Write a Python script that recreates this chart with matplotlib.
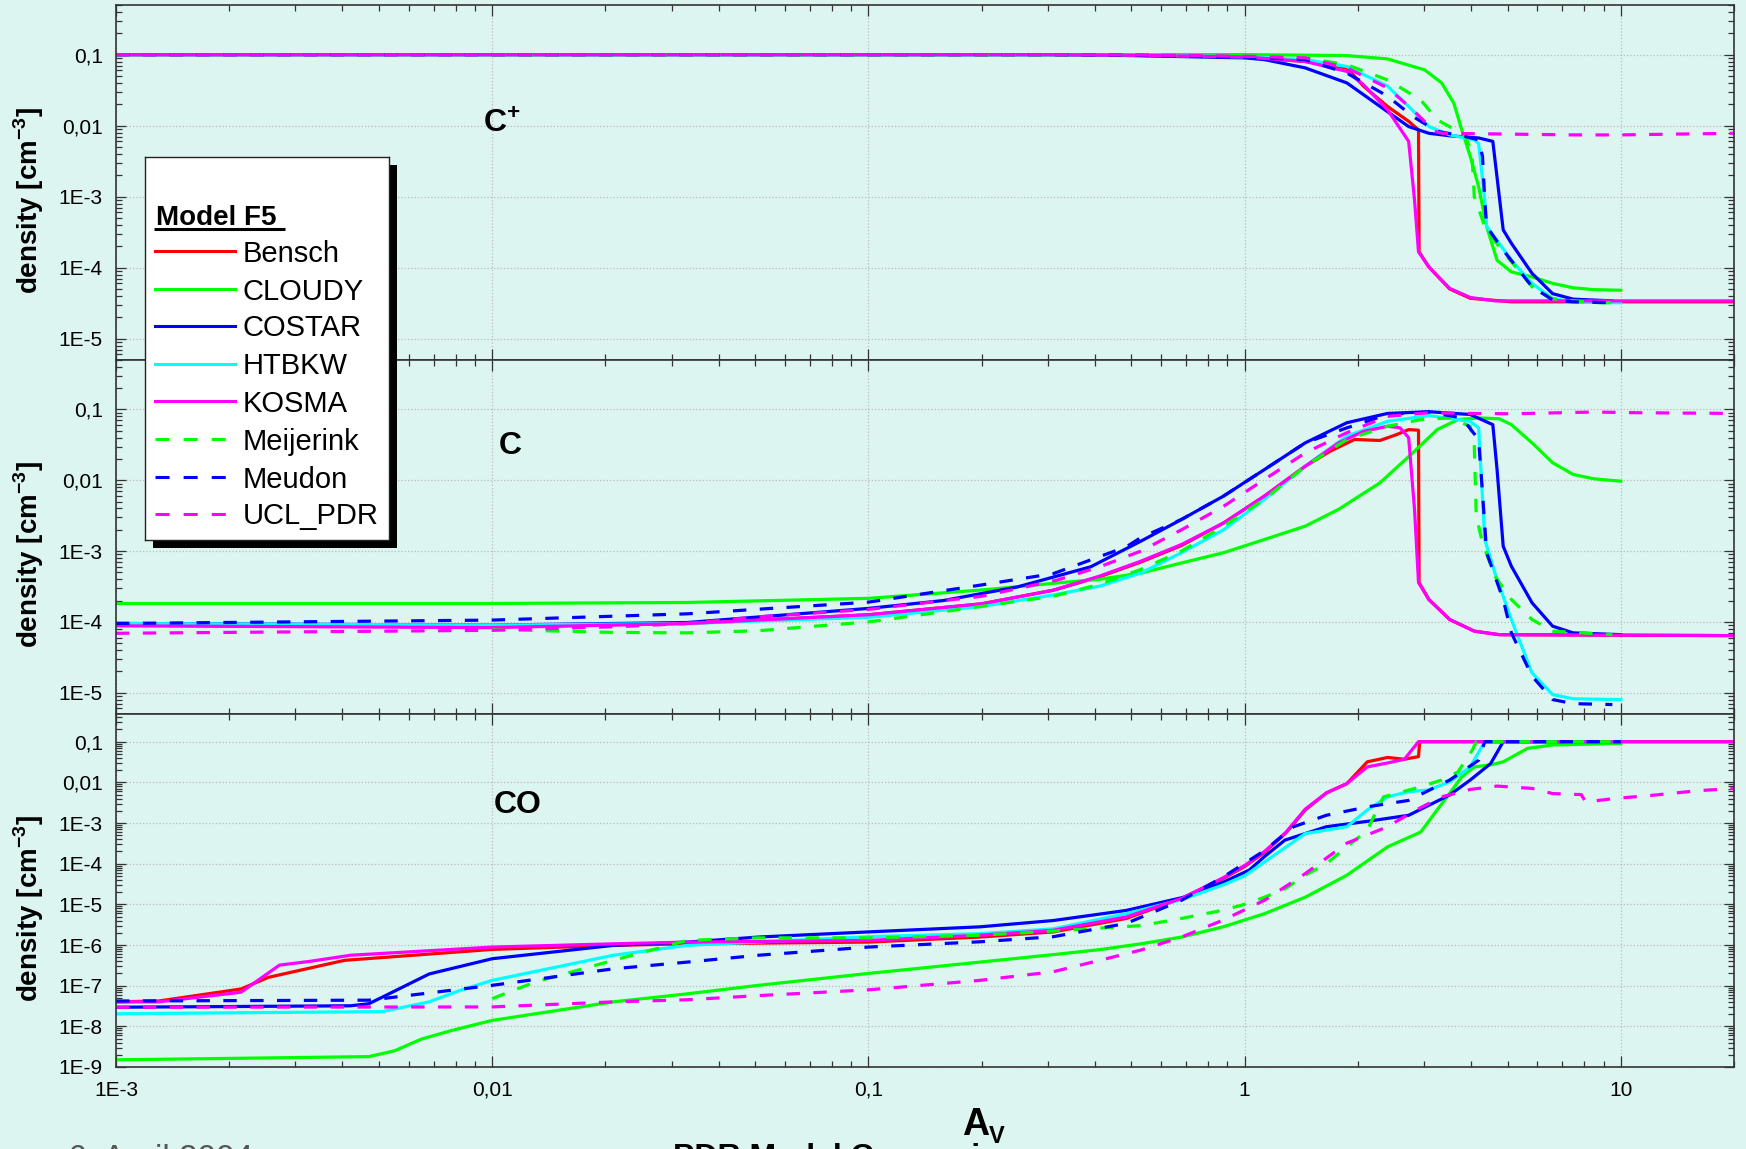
import matplotlib
matplotlib.use("Agg")
import matplotlib.pyplot as plt
from matplotlib.patches import Rectangle
from matplotlib.ticker import LogLocator, NullFormatter

# ==================== data (A_V, density) ====================
models = ["Bensch", "CLOUDY", "COSTAR", "HTBKW", "KOSMA", "Meijerink", "Meudon", "UCL_PDR"]

# --- C+ ---
cp_bensch_x = [1e-3, 0.3, 0.5, 1.0, 1.45, 1.87, 2.07, 2.4, 2.73, 2.9, 2.91, 3.09, 3.51, 3.98, 5.12, 20]
cp_bensch_y = [0.1, 0.1, 0.098, 0.093, 0.08, 0.065, 0.036, 0.0186, 0.0115, 0.0087, 1.67e-4, 1.02e-4, 5.0e-5, 3.7e-5, 3.3e-5, 3.3e-5]
cp_cloudy_x = [1e-3, 0.5, 1.0, 1.87, 2.4, 3.01, 3.34, 3.6, 3.78, 3.98, 4.19, 4.4, 4.69, 5.12, 5.81, 6.59, 7.47, 8.48, 10]
cp_cloudy_y = [0.1, 0.1, 0.1, 0.097, 0.087, 0.061, 0.04, 0.0207, 0.0087, 0.0037, 0.00138, 3.8e-4, 1.27e-4, 8.7e-5, 7.4e-5, 6.0e-5, 5.2e-5, 4.9e-5, 4.8e-5]
cp_costar_x = [1e-3, 0.3, 0.5, 1.0, 1.13, 1.45, 1.87, 2.29, 2.73, 3.09, 3.51, 4.19, 4.57, 4.87, 5.12, 5.81, 6.59, 7.47, 9.5]
cp_costar_y = [0.1, 0.1, 0.097, 0.09, 0.085, 0.065, 0.04, 0.0187, 0.0097, 0.0078, 0.0072, 0.0067, 0.006, 3.4e-4, 2.2e-4, 8.3e-5, 4.3e-5, 3.6e-5, 3.4e-5]
cp_htbkw_x = [1e-3, 0.5, 1.0, 1.45, 1.87, 2.4, 2.73, 3.09, 3.51, 4.08, 4.19, 4.35, 4.4, 4.75, 5.12, 5.81, 6.59, 7.47, 10]
cp_htbkw_y = [0.1, 0.099, 0.093, 0.085, 0.068, 0.036, 0.0186, 0.0097, 0.0074, 0.0063, 0.0056, 9e-4, 3.8e-4, 2.2e-4, 1.27e-4, 6.0e-5, 3.65e-5, 3.3e-5, 3.2e-5]
cp_kosma_x = [1e-3, 0.3, 0.5, 1.0, 1.45, 1.87, 2.07, 2.4, 2.73, 2.83, 2.9, 3.09, 3.51, 3.98, 4.63, 20]
cp_kosma_y = [0.1, 0.1, 0.098, 0.093, 0.08, 0.058, 0.0377, 0.0167, 0.006, 9e-4, 1.67e-4, 1.02e-4, 5.1e-5, 3.8e-5, 3.4e-5, 3.4e-5]
cp_meijerink_x = [0.01, 0.5, 1.0, 1.45, 1.87, 2.4, 2.94, 3.25, 3.69, 3.87, 4.02, 4.08, 4.23, 4.35, 4.75, 5.81, 6.59, 8.48, 9.5]
cp_meijerink_y = [0.1, 0.099, 0.095, 0.09, 0.072, 0.044, 0.023, 0.0121, 0.0083, 0.007, 0.0041, 1e-3, 5.8e-4, 3.8e-4, 1.96e-4, 5.4e-5, 3.65e-5, 3.2e-5, 3.2e-5]
cp_meudon_x = [1e-3, 0.3, 0.5, 1.0, 1.45, 1.87, 2.4, 2.8, 3.25, 3.78, 4.19, 4.29, 4.35, 4.4, 4.87, 5.81, 6.59, 7.47, 9.5]
cp_meudon_y = [0.1, 0.1, 0.098, 0.092, 0.085, 0.055, 0.026, 0.0135, 0.0083, 0.0072, 0.0063, 0.0037, 9e-4, 3.8e-4, 1.76e-4, 5.4e-5, 3.5e-5, 3.3e-5, 3.2e-5]
cp_ucl_x = [1e-3, 0.3, 0.5, 1.0, 1.45, 1.87, 2.4, 2.8, 3.2, 3.35, 5.0, 7.5, 10, 14, 20]
cp_ucl_y = [0.1, 0.1, 0.099, 0.095, 0.09, 0.065, 0.034, 0.0167, 0.0083, 0.0078, 0.0076, 0.0074, 0.0074, 0.0076, 0.0078]

# --- C ---
c_bensch_x = [1e-3, 0.01, 0.033, 0.1, 0.2, 0.31, 0.41, 0.53, 0.68, 0.88, 1.13, 1.45, 1.69, 1.96, 2.29, 2.53, 2.73, 2.9, 2.91, 3.09, 3.51, 4.08, 4.75, 20]
c_bensch_y = [9.0e-5, 8.5e-5, 9.5e-5, 1.26e-4, 1.8e-4, 2.8e-4, 4.3e-4, 7.0e-4, 1.2e-3, 2.5e-3, 6.0e-3, 0.0158, 0.0258, 0.0377, 0.0365, 0.044, 0.052, 0.051, 3.6e-4, 2.07e-4, 1.08e-4, 7.4e-5, 6.6e-5, 6.4e-5]
c_cloudy_x = [1e-3, 0.01, 0.033, 0.1, 0.205, 0.318, 0.412, 0.53, 0.68, 0.88, 1.13, 1.45, 1.78, 2.29, 2.8, 3.25, 3.69, 4.19, 4.75, 5.12, 5.81, 6.59, 7.47, 8.48, 10]
c_cloudy_y = [1.82e-4, 1.82e-4, 1.88e-4, 2.15e-4, 2.85e-4, 3.55e-4, 4.0e-4, 4.9e-4, 6.8e-4, 9.5e-4, 1.46e-3, 2.25e-3, 3.9e-3, 9.2e-3, 0.0244, 0.052, 0.072, 0.076, 0.074, 0.061, 0.0338, 0.0177, 0.0121, 0.0105, 0.0097]
c_costar_x = [1e-3, 0.01, 0.033, 0.1, 0.158, 0.248, 0.39, 0.53, 0.68, 0.88, 1.13, 1.45, 1.87, 2.4, 3.09, 3.98, 4.57, 4.69, 4.87, 5.12, 5.81, 6.59, 7.47, 10]
c_costar_y = [9.5e-5, 9.0e-5, 9.8e-5, 1.55e-4, 2.0e-4, 3.1e-4, 6.0e-4, 1.38e-3, 2.8e-3, 6.0e-3, 0.0142, 0.0338, 0.065, 0.088, 0.093, 0.085, 0.061, 0.0142, 1.17e-3, 6.1e-4, 1.86e-4, 8.7e-5, 7.0e-5, 6.6e-5]
c_htbkw_x = [1e-3, 0.01, 0.033, 0.1, 0.198, 0.31, 0.412, 0.53, 0.68, 0.88, 1.13, 1.45, 1.87, 2.4, 3.09, 3.98, 4.19, 4.35, 4.63, 5.12, 5.81, 6.59, 7.47, 10]
c_htbkw_y = [9.5e-5, 9.0e-5, 9.5e-5, 1.16e-4, 1.64e-4, 2.4e-4, 3.2e-4, 4.9e-4, 9.5e-4, 2.0e-3, 5.4e-3, 0.0158, 0.042, 0.068, 0.082, 0.068, 0.055, 1.46e-3, 4.9e-4, 1.08e-4, 1.9e-5, 9.4e-6, 8.2e-6, 8.0e-6]
c_kosma_x = [1e-3, 0.01, 0.033, 0.1, 0.2, 0.31, 0.41, 0.53, 0.68, 0.88, 1.13, 1.45, 1.78, 2.07, 2.4, 2.59, 2.73, 2.83, 2.9, 3.09, 3.51, 4.08, 4.75, 20]
c_kosma_y = [8.8e-5, 8.3e-5, 9.5e-5, 1.26e-4, 1.8e-4, 2.8e-4, 4.4e-4, 7.2e-4, 1.24e-3, 2.5e-3, 6.0e-3, 0.0158, 0.0338, 0.049, 0.058, 0.055, 0.04, 3.9e-3, 3.6e-4, 2.07e-4, 1.08e-4, 7.4e-5, 6.6e-5, 6.4e-5]
c_meijerink_x = [0.01, 0.021, 0.033, 0.051, 0.1, 0.158, 0.31, 0.412, 0.53, 0.68, 0.88, 1.13, 1.45, 1.87, 2.4, 2.94, 3.51, 3.98, 4.08, 4.13, 4.29, 4.63, 5.12, 5.81, 6.59, 9.5]
c_meijerink_y = [7.8e-5, 7.1e-5, 7.0e-5, 7.5e-5, 1.0e-4, 1.39e-4, 2.3e-4, 3.4e-4, 5.5e-4, 1.0e-3, 2.25e-3, 5.4e-3, 0.0158, 0.0377, 0.058, 0.072, 0.076, 0.058, 0.0303, 3.1e-3, 1.31e-3, 4.4e-4, 2.07e-4, 1.08e-4, 7.4e-5, 6.6e-5]
c_meudon_x = [1e-3, 0.01, 0.033, 0.1, 0.198, 0.31, 0.485, 0.53, 0.68, 0.88, 1.13, 1.45, 1.87, 2.4, 3.09, 3.78, 4.19, 4.29, 4.4, 4.87, 5.12, 5.81, 6.59, 7.47, 9.5]
c_meudon_y = [9.5e-5, 1.06e-4, 1.3e-4, 1.9e-4, 3.3e-4, 4.8e-4, 1.15e-3, 1.55e-3, 2.8e-3, 6.0e-3, 0.0142, 0.0338, 0.055, 0.085, 0.092, 0.076, 0.0377, 0.0067, 9.5e-4, 2.07e-4, 7.0e-5, 1.71e-5, 8.0e-6, 7.0e-6, 6.8e-6]
c_ucl_x = [1e-3, 0.01, 0.022, 0.033, 0.05, 0.1, 0.2, 0.318, 0.412, 0.53, 0.68, 0.88, 1.13, 1.45, 1.87, 2.4, 3.09, 3.98, 5.12, 8.48, 11, 20]
c_ucl_y = [6.9e-5, 7.6e-5, 8.6e-5, 9.5e-5, 1.17e-4, 1.5e-4, 2.3e-4, 3.9e-4, 6.0e-4, 1.0e-3, 2.0e-3, 4.3e-3, 0.0103, 0.0244, 0.047, 0.08, 0.09, 0.088, 0.087, 0.092, 0.09, 0.088]

# --- CO ---
co_bensch_x = [1e-3, 0.0013, 0.00215, 0.00254, 0.00405, 0.01, 0.021, 0.033, 0.1, 0.198, 0.31, 0.485, 0.68, 0.877, 1.0, 1.13, 1.29, 1.45, 1.65, 1.87, 2.12, 2.4, 2.66, 2.9, 2.92, 20]
co_bensch_y = [4.0e-8, 4.2e-8, 8.3e-8, 1.6e-7, 4.2e-7, 7.8e-7, 9.8e-7, 1.07e-6, 1.18e-6, 1.57e-6, 2.1e-6, 4.5e-6, 1.4e-5, 4.3e-5, 8.5e-5, 1.9e-4, 5.8e-4, 2.1e-3, 5.5e-3, 0.0093, 0.032, 0.041, 0.037, 0.043, 0.1, 0.1]
co_cloudy_x = [1e-3, 0.0047, 0.0055, 0.0065, 0.0078, 0.01, 0.021, 0.033, 0.051, 0.1, 0.198, 0.31, 0.412, 0.53, 0.68, 0.877, 1.13, 1.45, 1.87, 2.4, 2.94, 3.25, 3.51, 3.78, 4.08, 4.51, 4.87, 5.66, 6.59, 10]
co_cloudy_y = [1.5e-9, 1.8e-9, 2.5e-9, 4.9e-9, 7.9e-9, 1.4e-8, 4.0e-8, 6.3e-8, 1.02e-7, 2.0e-7, 3.8e-7, 5.8e-7, 7.7e-7, 1.07e-6, 1.57e-6, 2.8e-6, 5.9e-6, 1.5e-5, 5.2e-5, 2.6e-4, 6.0e-4, 2.1e-3, 5.4e-3, 0.0137, 0.024, 0.027, 0.032, 0.069, 0.083, 0.091]
co_costar_x = [1e-3, 0.0042, 0.0047, 0.0051, 0.0068, 0.01, 0.021, 0.033, 0.051, 0.1, 0.198, 0.31, 0.485, 0.69, 0.877, 1.03, 1.13, 1.28, 1.65, 2.12, 2.73, 3.51, 3.98, 4.51, 4.87, 10]
co_costar_y = [2.95e-8, 3.2e-8, 3.6e-8, 5.2e-8, 1.94e-7, 4.6e-7, 9.8e-7, 1.18e-6, 1.57e-6, 2.1e-6, 2.8e-6, 4.0e-6, 7.1e-6, 1.5e-5, 3.5e-5, 7e-5, 1.5e-4, 3.8e-4, 8.1e-4, 1.1e-3, 1.55e-3, 4.9e-3, 0.0114, 0.029, 0.1, 0.1]
co_htbkw_x = [1e-3, 0.0051, 0.0068, 0.0082, 0.01, 0.021, 0.033, 0.1, 0.198, 0.31, 0.485, 0.68, 0.877, 1.0, 1.13, 1.45, 1.87, 2.12, 2.4, 2.73, 3.09, 3.51, 3.98, 4.35, 10]
co_htbkw_y = [2.04e-8, 2.3e-8, 4e-8, 7.6e-8, 1.35e-7, 5.6e-7, 9.8e-7, 1.6e-6, 1.9e-6, 2.5e-6, 5.9e-6, 1.3e-5, 3e-5, 5e-5, 1.1e-4, 5.5e-4, 8.1e-4, 2.1e-3, 4.4e-3, 5.9e-3, 6.5e-3, 0.0103, 0.024, 0.1, 0.1]
co_kosma_x = [1e-3, 0.0013, 0.00215, 0.00272, 0.0033, 0.0042, 0.01, 0.021, 0.033, 0.1, 0.198, 0.31, 0.485, 0.68, 0.877, 1.0, 1.13, 1.29, 1.45, 1.65, 1.87, 2.12, 2.4, 2.66, 2.9, 20]
co_kosma_y = [4.0e-8, 4.0e-8, 6.9e-8, 3.2e-7, 4.0e-7, 5.6e-7, 8.9e-7, 1.07e-6, 1.18e-6, 1.3e-6, 1.74e-6, 2.3e-6, 4.9e-6, 1.4e-5, 4.5e-5, 9e-5, 2.0e-4, 6.0e-4, 2.2e-3, 5.5e-3, 0.0093, 0.024, 0.03, 0.037, 0.1, 0.1]
co_meijerink_x = [0.01, 0.013, 0.021, 0.033, 0.051, 0.1, 0.198, 0.31, 0.412, 0.53, 0.68, 0.877, 1.0, 1.13, 1.28, 1.45, 1.65, 1.87, 2.12, 2.17, 2.34, 2.53, 2.94, 3.34, 3.69, 4.03, 4.13, 10]
co_meijerink_y = [4.8e-8, 1.23e-7, 4.2e-7, 1.3e-6, 1.5e-6, 1.5e-6, 1.74e-6, 2.2e-6, 2.6e-6, 3.0e-6, 4.5e-6, 7.2e-6, 1.0e-5, 1.5e-5, 2.4e-5, 5.2e-5, 1.0e-4, 2.6e-4, 6.6e-4, 1.07e-3, 4.4e-3, 5.3e-3, 7.8e-3, 0.0114, 0.018, 0.062, 0.1, 0.1]
co_meudon_x = [1e-3, 0.0047, 0.0051, 0.0065, 0.01, 0.021, 0.033, 0.051, 0.1, 0.198, 0.31, 0.485, 0.68, 0.877, 1.13, 1.35, 1.65, 2.12, 2.73, 3.51, 4.19, 4.35, 10]
co_meudon_y = [4.2e-8, 4.4e-8, 4.8e-8, 6.3e-8, 1.02e-7, 2.6e-7, 3.8e-7, 5.6e-7, 8.9e-7, 1.2e-6, 1.6e-6, 3.4e-6, 1.26e-5, 4.7e-5, 2.1e-4, 8.1e-4, 1.55e-3, 2.5e-3, 3.6e-3, 0.0114, 0.035, 0.1, 0.1]
co_ucl_x = [1e-3, 0.01, 0.021, 0.033, 0.051, 0.1, 0.198, 0.31, 0.412, 0.53, 0.68, 0.877, 1.13, 1.45, 1.87, 2.4, 2.8, 3.34, 3.98, 4.69, 5.81, 6.59, 7.85, 8.07, 9.6, 12.4, 15.9, 20]
co_ucl_y = [2.95e-8, 3.0e-8, 4.0e-8, 4.5e-8, 5.7e-8, 7.9e-8, 1.35e-7, 2.2e-7, 4.2e-7, 7.5e-7, 1.57e-6, 4.1e-6, 1.26e-5, 5.7e-5, 3.2e-4, 8.1e-4, 1.9e-3, 4.4e-3, 6.7e-3, 8.1e-3, 7.1e-3, 5.3e-3, 5.0e-3, 3.3e-3, 4.0e-3, 4.9e-3, 6.2e-3, 7.1e-3]

panel_cp = [(cp_bensch_x, cp_bensch_y), (cp_cloudy_x, cp_cloudy_y), (cp_costar_x, cp_costar_y),
            (cp_htbkw_x, cp_htbkw_y), (cp_kosma_x, cp_kosma_y), (cp_meijerink_x, cp_meijerink_y),
            (cp_meudon_x, cp_meudon_y), (cp_ucl_x, cp_ucl_y)]
panel_c = [(c_bensch_x, c_bensch_y), (c_cloudy_x, c_cloudy_y), (c_costar_x, c_costar_y),
           (c_htbkw_x, c_htbkw_y), (c_kosma_x, c_kosma_y), (c_meijerink_x, c_meijerink_y),
           (c_meudon_x, c_meudon_y), (c_ucl_x, c_ucl_y)]
panel_co = [(co_bensch_x, co_bensch_y), (co_cloudy_x, co_cloudy_y), (co_costar_x, co_costar_y),
            (co_htbkw_x, co_htbkw_y), (co_kosma_x, co_kosma_y), (co_meijerink_x, co_meijerink_y),
            (co_meudon_x, co_meudon_y), (co_ucl_x, co_ucl_y)]

xtick_vals = [1e-3, 1e-2, 1e-1, 1, 10]
xtick_labels = ["1E-3", "0,01", "0,1", "1", "10"]
ytick_vals_5 = [1e-5, 1e-4, 1e-3, 1e-2, 1e-1]
ytick_labels_5 = ["1E-5", "1E-4", "1E-3", "0,01", "0,1"]
ytick_vals_9 = [1e-9, 1e-8, 1e-7, 1e-6, 1e-5, 1e-4, 1e-3, 1e-2, 1e-1]
ytick_labels_9 = ["1E-9", "1E-8", "1E-7", "1E-6", "1E-5", "1E-4", "1E-3", "0,01", "0,1"]

# ==================== style ====================
colors = ["#FF0000", "#00FF00", "#0000FF", "#00FFFF", "#FF00FF", "#00FF00", "#0000FF", "#FF00FF"]
dashed = [False, False, False, False, False, True, True, True]
DASH = (0, (4.2, 4.2))
BG = "#DDF5F0"
SPINE = "#333333"

plt.rcParams["font.family"] = ["Liberation Sans", "DejaVu Sans"]
plt.rcParams["mathtext.fontset"] = "custom"
plt.rcParams["mathtext.rm"] = "Liberation Sans"
plt.rcParams["mathtext.bf"] = "Liberation Sans:bold"

W, H = 1746, 1149
fig = plt.figure(figsize=(W / 100, H / 100), dpi=100, facecolor=BG)


def rect(l, t, r, b):
    return [l / W, 1 - b / H, (r - l) / W, (b - t) / H]


def setup_axis(ax, ylim, yvals, ylabels, show_x):
    ax.set_facecolor(BG)
    ax.set_xscale("log")
    ax.set_yscale("log")
    ax.set_xlim(1e-3, 20)
    ax.set_ylim(*ylim)
    ax.set_xticks(xtick_vals, xtick_labels if show_x else [""] * len(xtick_vals))
    ax.set_yticks(yvals, ylabels)
    ax.xaxis.set_minor_locator(LogLocator(base=10, subs=range(2, 10), numticks=20))
    ax.yaxis.set_minor_locator(LogLocator(base=10, subs=range(2, 10), numticks=20))
    ax.xaxis.set_minor_formatter(NullFormatter())
    ax.yaxis.set_minor_formatter(NullFormatter())
    ax.tick_params(which="both", direction="in", top=True, right=True,
                   color=SPINE, width=0.9, labelsize=15)
    ax.tick_params(axis="x", which="major", length=8, pad=10)
    ax.tick_params(axis="x", which="minor", length=4.5)
    ax.tick_params(axis="y", which="major", length=7, pad=9.5)
    ax.tick_params(axis="y", which="minor", length=4.5)
    ax.grid(True, which="major", color="#BBBBBB", linestyle=":", linewidth=0.9)
    for s in ax.spines.values():
        s.set_color(SPINE)
        s.set_linewidth(1.2)
    ax.set_ylabel(r"density [cm$^{\mathbf{-3}}$]", fontsize=20, fontweight="bold")
    ax.yaxis.set_label_coords(-0.0433, 0.45)


def draw_panel(ax, data):
    for (xs, ys), c, d in zip(data, colors, dashed):
        ax.plot(xs, ys, color=c, lw=2.3, linestyle=DASH if d else "-",
                solid_joinstyle="round")


ax_top = fig.add_axes(rect(116, 5, 1734, 360))
ax_mid = fig.add_axes(rect(116, 360, 1734, 714))
ax_bot = fig.add_axes(rect(116, 714, 1734, 1067))

setup_axis(ax_top, (5e-6, 0.5), ytick_vals_5, ytick_labels_5, False)
setup_axis(ax_mid, (5e-6, 0.5), ytick_vals_5, ytick_labels_5, False)
setup_axis(ax_bot, (1e-9, 0.48), ytick_vals_9, ytick_labels_9, True)

draw_panel(ax_top, panel_cp)
draw_panel(ax_mid, panel_c)
draw_panel(ax_bot, panel_co)

# species labels
fig.text(483 / W, 1 - 133 / H, r"C$^{\mathbf{+}}$", fontsize=23, fontweight="bold")
fig.text(499 / W, 1 - 454 / H, "C", fontsize=23, fontweight="bold")
fig.text(494 / W, 1 - 813 / H, "CO", fontsize=23, fontweight="bold")

# x axis label A_V
fig.text(962 / W, 1 - 1135 / H, "A", fontsize=27, fontweight="bold")
fig.text(989 / W, 1 - 1143 / H, "V", fontsize=17, fontweight="bold")

# cut-off footer
fig.text(68 / W, 1 - 1168 / H, "6. April 2004", fontsize=24, color="#555555")
fig.text(673 / W, 1 - 1166 / H, "PDR Model Comparison", fontsize=23, fontweight="bold")

# ==================== legend box ====================
shadow = Rectangle((153 / W, 1 - 548 / H), 244 / W, 383 / H, transform=fig.transFigure,
                   facecolor="black", edgecolor="none", zorder=5)
fig.add_artist(shadow)
lax = fig.add_axes(rect(145, 157, 389, 540), zorder=6)
lax.set_xlim(0, 244)
lax.set_ylim(383, 0)
lax.set_facecolor("white")
lax.set_xticks([])
lax.set_yticks([])
for s in lax.spines.values():
    s.set_color("#222222")
    s.set_linewidth(1.0)
lax.text(11, 68, "Model F5", fontsize=20, fontweight="bold", va="baseline")
lax.plot([9, 140], [71.5, 71.5], color="black", lw=2.2, solid_capstyle="butt")
row_y = [94, 132, 169, 207, 244, 282, 320, 357]
for name, c, d, yy in zip(models, colors, dashed, row_y):
    if d:
        lax.plot([10, 81], [yy, yy], color=c, lw=2.2, linestyle=(0, (4.6, 4.6)))
    else:
        lax.plot([10, 90], [yy, yy], color=c, lw=2.2)
    lax.text(98, yy + 10.5, name, fontsize=21, va="baseline")

fig.savefig("out.png", dpi=100, facecolor=BG)
